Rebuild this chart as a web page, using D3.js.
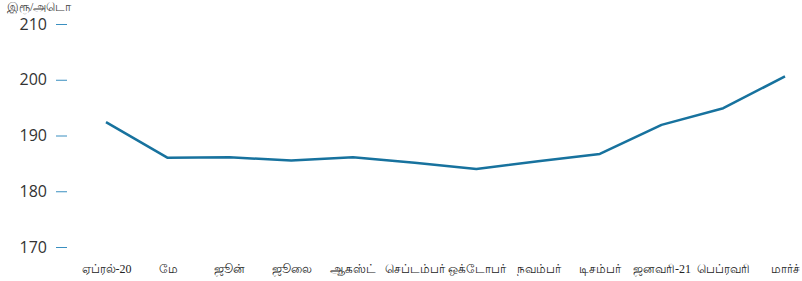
<!DOCTYPE html>
<html>
<head>
<meta charset="utf-8">
<script src="https://cdn.jsdelivr.net/npm/d3@7"></script>
<style>
  body { margin: 0; background: #fff; }
  .axis--y text { font-family: "Open Sans", sans-serif; font-size: 16px; fill: #333; }
  .axis--x text { font-family: serif; font-size: 12px; fill: #222; }
</style>
</head>
<body>
<div id="chart"></div>
<script>
var months = ["ஏப்ரல்-20", "மே", "ஜூன்", "ஜூலை", "ஆகஸ்ட்", "செப்டம்பர்", "ஒக்டோபர்", "நவம்பர்", "டிசம்பர்", "ஜனவரி-21", "பெப்ரவரி", "மார்ச்"];
var prices = [192.4, 186.0, 186.1, 185.5, 186.1, 185.1, 184.0, 185.4, 186.7, 191.9, 194.9, 200.6];
var yTicks = [170, 180, 190, 200, 210];
var yTitle = "இரூ/அடொ";

var width = 802, height = 281;

var svg = d3.select("#chart")
    .append("svg")
        .attr("width", width)
        .attr("height", height);

var x = d3.scalePoint().domain(months).range([106, 785]);
var y = d3.scaleLinear().domain([170, 210]).range([247, 24]);

// y axis: short blue ticks, no domain line
var yAxis = svg.append("g")
    .attr("class", "axis axis--y")
    .attr("transform", "translate(67,0)")
    .call(d3.axisLeft(y).tickValues(yTicks).tickSize(11).tickPadding(9));
yAxis.select(".domain").remove();
yAxis.selectAll("line").attr("stroke", "#3a8fc0").attr("stroke-width", 1);

// x axis labels only
var xAxis = svg.append("g")
    .attr("class", "axis axis--x")
    .attr("transform", "translate(0,260)")
    .call(d3.axisBottom(x).tickSize(0).tickPadding(4));
xAxis.select(".domain").remove();

svg.append("text")
    .attr("x", 7)
    .attr("y", 11)
    .attr("font-family", "serif")
    .attr("font-size", 12)
    .attr("fill", "#444")
    .text(yTitle);

var line = d3.line()
    .x(function(d, i) { return x(months[i]); })
    .y(function(d) { return y(d); });

svg.append("path")
    .datum(prices)
    .attr("fill", "none")
    .attr("stroke", "#17729e")
    .attr("stroke-width", 2.5)
    .attr("stroke-linejoin", "round")
    .attr("d", line);
</script>
</body>
</html>
